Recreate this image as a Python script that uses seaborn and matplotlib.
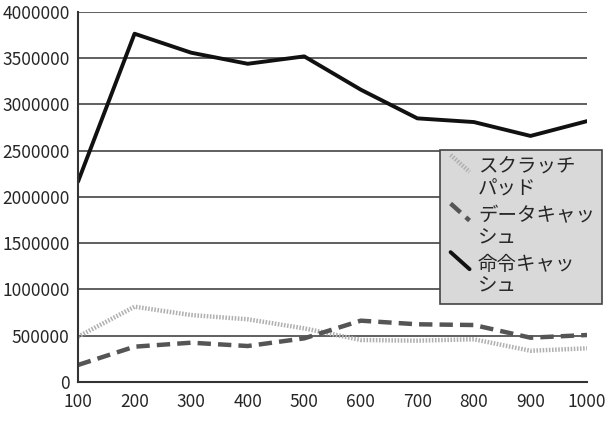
import matplotlib
matplotlib.use("Agg")
import matplotlib.pyplot as plt
from matplotlib.legend_handler import HandlerLine2D
from matplotlib.lines import Line2D
import seaborn as sns
import pandas as pd

sizes = [100, 200, 300, 400, 500, 600, 700, 800, 900, 1000]
scratchpad = [490000, 814000, 724000, 678000, 580000, 454000, 447000, 462000, 338000, 364000]
data_cache = [184000, 382000, 425000, 389000, 472000, 663000, 624000, 616000, 479000, 508000]
inst_cache = [2165000, 3765000, 3560000, 3440000, 3520000, 3160000, 2850000, 2810000, 2660000, 2820000]
labels = ["スクラッチ\nパッド", "データキャッ\nシュ", "命令キャッ\nシュ"]
y_ticks = list(range(0, 4000001, 500000))

sns.set_style("white")
plt.rcParams['font.family'] = ['Noto Sans CJK JP', 'DejaVu Sans']

fig = plt.figure(figsize=(6.16, 4.34), dpi=100)
ax = fig.add_axes([0.1266, 0.1198, 0.8264, 0.8526])

df = pd.DataFrame({"x": sizes, "s": scratchpad, "d": data_cache, "i": inst_cache})

sns.lineplot(data=df, x="x", y="s", ax=ax, color="#b0b0b0", lw=3.2,
             linestyle=(0, (0.35, 0.35)), label=labels[0])
sns.lineplot(data=df, x="x", y="d", ax=ax, color="#555555", lw=3.2,
             linestyle=(0, (3, 1.6)), label=labels[1])
sns.lineplot(data=df, x="x", y="i", ax=ax, color="#111111", lw=2.8,
             linestyle="-", label=labels[2])

ax.set_xlim(100, 1000)
ax.set_ylim(0, 4000000)
ax.set_xticks(sizes)
ax.set_yticks(y_ticks)
ax.set_xticklabels([str(v) for v in sizes])
ax.set_yticklabels([str(v) for v in y_ticks])
ax.set_xlabel("")
ax.set_ylabel("")
ax.tick_params(axis="both", labelsize=12.5, length=4, width=1.2, color="#333333",
               direction="out", pad=2)
ax.tick_params(axis="x", pad=4)
ax.yaxis.grid(True, color="#444444", lw=1.2)
ax.set_axisbelow(True)
for side in ["top", "right"]:
    ax.spines[side].set_visible(False)
for side in ["left", "bottom"]:
    ax.spines[side].set_color("#333333")
    ax.spines[side].set_linewidth(1.5)


class DiagonalHandler(HandlerLine2D):
    def create_artists(self, legend, orig_handle, xdescent, ydescent,
                       width, height, fontsize, trans):
        line = Line2D([0.15 * width, 0.9 * width], [height * 2.3, height * 1.05])
        self.update_prop(line, orig_handle, legend)
        line.set_transform(trans)
        return [line]


handles, leg_labels = ax.get_legend_handles_labels()
leg = ax.legend(handles, leg_labels, loc="upper left",
                bbox_to_anchor=(440 / 616, 1 - 150 / 434), bbox_transform=fig.transFigure,
                frameon=True, fancybox=False,
                fontsize=14, handlelength=1.3, handletextpad=0.3,
                labelspacing=0.3, borderpad=0.35, borderaxespad=0,
                handler_map={h: DiagonalHandler() for h in handles})
leg.get_frame().set_facecolor("#d9d9d9")
leg.get_frame().set_edgecolor("#444444")
leg.get_frame().set_linewidth(1.2)
leg.get_frame().set_alpha(1)
for t in leg.get_texts():
    t.set_linespacing(1.05)

fig.savefig("out.png", dpi=100)
